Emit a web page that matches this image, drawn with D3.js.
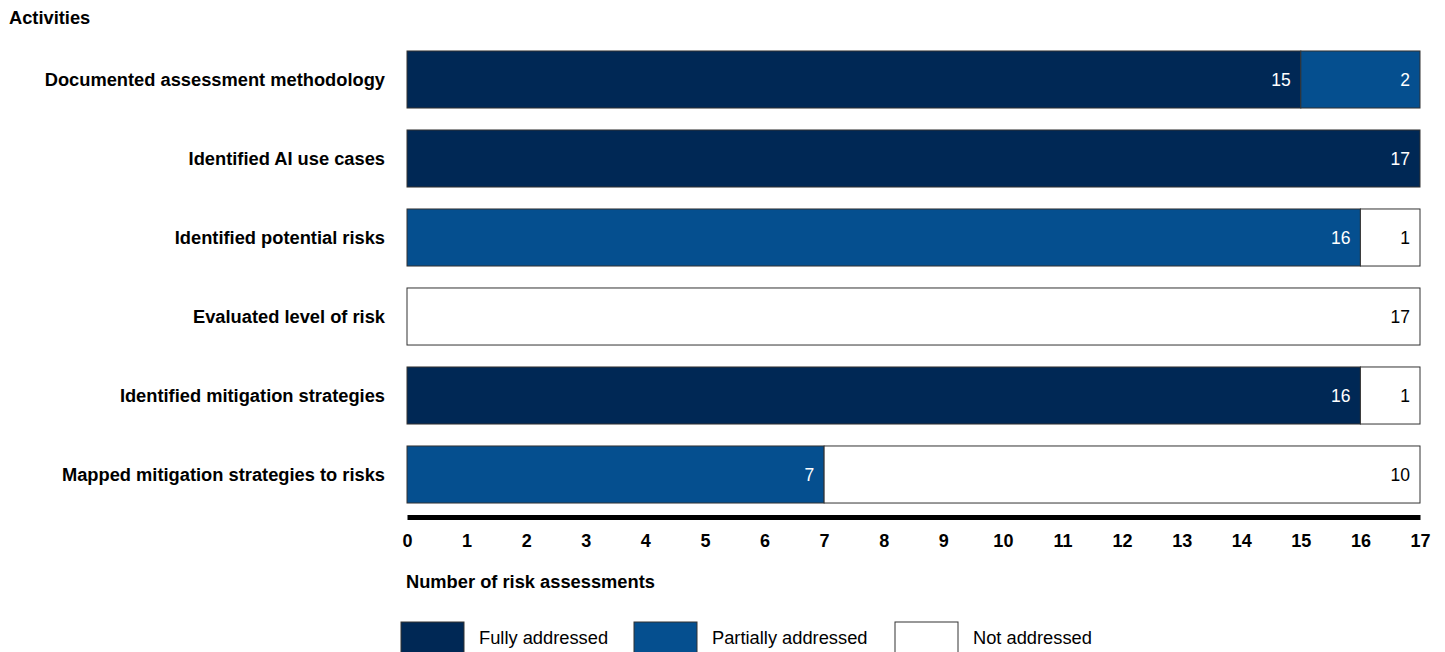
<!DOCTYPE html>
<html lang="en">
  <head>
    <meta charset="UTF-8" />
    <title>Risk assessment activities</title>
    <style>
      body { margin: 0; background: #fff; }
      text { font-family: "Liberation Sans", Arial, sans-serif; }
    </style>
  </head>
  <body>
    <div id="chart"></div>

    <script src="https://cdnjs.cloudflare.com/ajax/libs/d3/7.8.5/d3.min.js"></script>
    <script>
    // data
    var activities = [
      "Documented assessment methodology",
      "Identified AI use cases",
      "Identified potential risks",
      "Evaluated level of risk",
      "Identified mitigation strategies",
      "Mapped mitigation strategies to risks"
    ];
    var statuses = ["Fully addressed", "Partially addressed", "Not addressed"];
    var fully     = [15, 17, 0, 0, 16, 0];
    var partially = [2, 0, 16, 0, 0, 7];
    var notAddr   = [0, 0, 1, 17, 1, 10];
    var xTicks = d3.range(0, 18);

    var colors = ["#002855", "#054f8f", "#ffffff"];
    var textColors = ["#ffffff", "#ffffff", "#000000"];

    var w = 1445, h = 652;

    var svg = d3.select("#chart")
                .append("svg")
                .attr("width", w)
                .attr("height", h);

    var xScale = d3.scaleLinear()
                   .domain([0, 17])
                   .range([407, 1420]);

    var yScale = d3.scaleBand()
                   .domain(activities)
                   .range([40, 514])
                   .paddingInner(0.278)
                   .paddingOuter(0.139);

    // build stacked table
    var rows = activities.map(function(a, i) {
      return { activity: a, "Fully addressed": fully[i], "Partially addressed": partially[i], "Not addressed": notAddr[i] };
    });
    var series = d3.stack().keys(statuses)(rows);

    var groups = svg.selectAll("g.series")
                    .data(series)
                    .enter()
                    .append("g")
                    .attr("class", "series");

    groups.each(function(s, si) {
      var segs = s.filter(function(d) { return d[1] - d[0] > 0; });
      var g = d3.select(this);
      g.selectAll("rect")
       .data(segs)
       .enter()
       .append("rect")
       .attr("x", function(d) { return xScale(d[0]); })
       .attr("y", function(d) { return yScale(d.data.activity); })
       .attr("width", function(d) { return xScale(d[1]) - xScale(d[0]); })
       .attr("height", yScale.bandwidth())
       .attr("fill", colors[si])
       .attr("stroke", "#333")
       .attr("stroke-width", 1);

      g.selectAll("text")
       .data(segs)
       .enter()
       .append("text")
       .attr("x", function(d) { return xScale(d[1]) - 10; })
       .attr("y", function(d) { return yScale(d.data.activity) + yScale.bandwidth() / 2; })
       .attr("dy", "0.35em")
       .attr("text-anchor", "end")
       .attr("font-size", 17.5)
       .attr("fill", textColors[si])
       .text(function(d) { return d[1] - d[0]; });
    });

    // category labels
    svg.selectAll("text.cat")
       .data(activities)
       .enter()
       .append("text")
       .attr("class", "cat")
       .attr("x", 385)
       .attr("y", function(d) { return yScale(d) + yScale.bandwidth() / 2; })
       .attr("dy", "0.35em")
       .attr("text-anchor", "end")
       .attr("font-size", 18.3)
       .attr("font-weight", "bold")
       .attr("fill", "#000")
       .text(function(d) { return d; });

    svg.append("text")
       .attr("x", 9)
       .attr("y", 24)
       .attr("font-size", 18.3)
       .attr("font-weight", "bold")
       .text("Activities");

    // x axis
    var xAxis = d3.axisBottom(xScale)
                  .tickValues(xTicks)
                  .tickSize(0)
                  .tickPadding(17);
    var ax = svg.append("g")
                .attr("class", "x-axis")
                .attr("transform", "translate(0,517)")
                .call(xAxis);
    ax.select(".domain")
      .attr("stroke", "#000")
      .attr("stroke-width", 5);
    ax.selectAll("text")
      .attr("font-family", "'Liberation Sans', Arial, sans-serif")
      .attr("font-size", 18)
      .attr("font-weight", "bold")
      .attr("fill", "#000");

    svg.append("text")
       .attr("x", 406)
       .attr("y", 588)
       .attr("font-size", 18.3)
       .attr("font-weight", "bold")
       .text("Number of risk assessments");

    // legend
    var legendX = [401, 634, 895];
    var legend = svg.selectAll("g.legend")
                    .data(statuses)
                    .enter()
                    .append("g")
                    .attr("class", "legend")
                    .attr("transform", function(d, i) { return "translate(" + legendX[i] + ",622)"; });
    legend.append("rect")
          .attr("width", 63)
          .attr("height", 36)
          .attr("fill", function(d, i) { return colors[i]; })
          .attr("stroke", "#333")
          .attr("stroke-width", 1);
    legend.append("text")
          .attr("x", 78)
          .attr("y", 16)
          .attr("dy", "0.35em")
          .attr("font-size", 18.3)
          .attr("fill", "#000")
          .text(function(d) { return d; });
    </script>
  </body>
</html>
